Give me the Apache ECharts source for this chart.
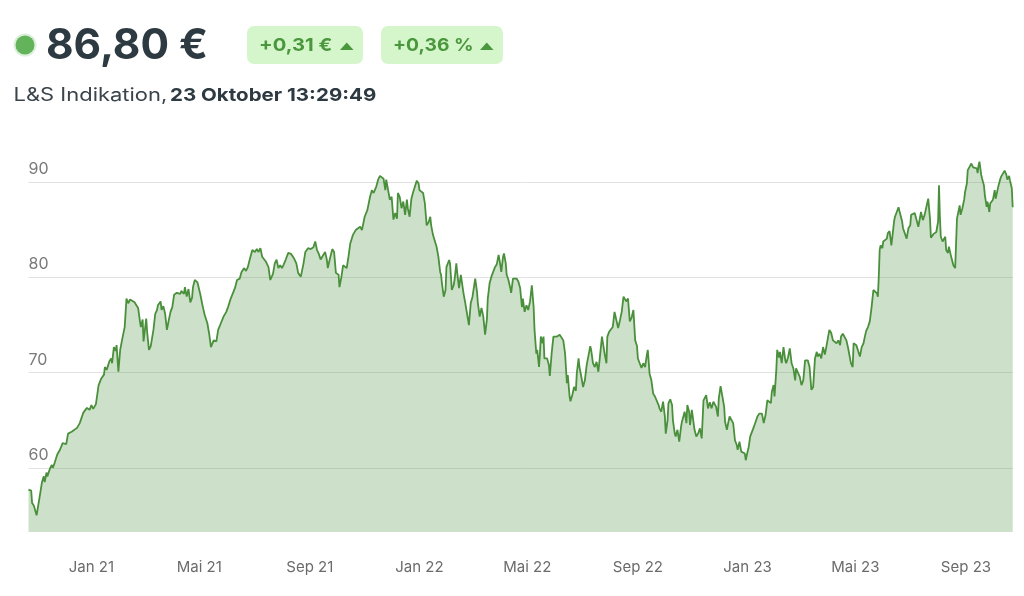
<!DOCTYPE html>
<html><head><meta charset="utf-8">
<script src="https://cdn.jsdelivr.net/npm/echarts@6/dist/echarts.min.js"></script>
<style>html,body{margin:0;padding:0;background:#fff;} #chart{width:1024px;height:596px;}</style>
</head><body><div id="chart"></div>
<script>
// Data: day offsets counted from the first date shown (23 Oct 2020), and the price on that day
const startDate = '2020-10-23';
const dayOffsets = [0,3,4,6,8,9,11,13,15,17,18,20,21,24,26,27,29,32,35,38,40,42,44,48,50,54,57,61,65,67,68,70,72,75,77,78,81,84,85,87,90,92,93,95,97,98,100,102,104,107,109,111,113,115,118,120,122,124,125,127,128,130,131,132,134,136,137,139,141,143,144,147,148,150,152,154,156,158,160,162,165,167,169,170,173,174,176,178,180,182,183,185,
188,191,194,196,199,201,203,206,209,211,214,217,220,222,225,228,230,232,235,237,240,242,244,246,249,252,254,256,258,260,262,264,267,269,272,274,276,278,280,282,284,286,289,292,295,298,300,303,306,308,309,311,314,317,319,321,323,325,327,330,332,333,335,338,340,342,345,346,348,350,352,354,356,358,361,364,
366,369,371,372,374,377,380,382,384,385,387,389,391,393,395,397,398,400,402,404,406,408,410,411,413,415,417,419,421,422,424,426,428,430,432,434,435,437,439,441,443,445,447,448,450,452,454,456,458,459,460,462,464,465,468,469,471,473,474,476,477,479,481,483,484,486,488,490,492,494,496,497,499,500,502,504,506,508,510,511,513,515,517,519,521,523,524,526,528,529,531,532,534,536,537,539,541,543,545,
547,549,550,552,554,556,558,560,562,563,565,566,568,569,570,572,573,574,576,577,579,580,582,584,586,588,589,591,593,595,597,599,600,602,603,605,607,609,610,612,613,615,617,619,621,623,625,626,628,630,632,634,636,638,639,641,643,644,646,648,650,652,654,656,658,660,662,664,665,667,669,671,673,674,675,677,678,680,682,684,686,688,689,691,693,695,697,699,701,702,704,706,708,709,711,712,714,716,717,719,720,722,724,726,727,729,
730,732,733,735,736,738,740,741,743,745,747,749,751,752,754,756,758,760,762,764,765,767,768,770,772,774,775,777,778,780,782,784,786,788,789,791,793,795,797,798,800,801,803,805,807,809,811,813,814,816,818,820,822,824,826,827,829,830,832,833,835,836,838,840,842,843,845,847,849,851,853,854,856,858,860,862,864,866,867,869,871,873,875,877,878,880,882,884,886,888,890,891,893,895,897,899,901,903,904,906,908,910,912,
914,915,917,918,920,921,923,925,927,929,931,932,934,936,938,940,942,944,945,946,947,948,950,951,953,955,956,958,960,961,963,964,966,968,969,970,972,973,975,977,979,981,982,984,986,988,990,992,993,995,997,999,1001,1003,1004,1006,1007,1009,1010,1012,1013,1014,1015,1017,1018,1020,1021,1023,1024,1026,1027,1029,1031,1032,1033,1035,1036,1037,1039,1041,1042,1044,1045,1047,1049,1051,1053,1055,1056,1057,1058,1060,1061,1063,1064,1066,1067,1069,1070,1072,1073,1075,1076,1078,1079,1081,1082,1084,1086,1088,1089,1091,1092,1094,1095];
const prices = [57.7,57.6,56.3,56.0,56.1,55.0,55.1,57.3,58.5,59.1,58.5,59.5,59.1,59.95,60.3,60.0,60.5,61.4,61.9,62.6,62.4,62.5,63.6,63.8,63.6,64.2,64.7,65.8,66.3,66.5,66.1,66.6,66.2,66.7,66.8,68.7,69.4,69.8,70.6,70.3,71.2,71.5,71.0,72.7,72.3,72.9,70.1,72.4,73.4,74.8,77.8,77.3,77.7,77.7,77.4,77.1,76.8,75.4,74.8,75.6,73.3,73.2,75.7,74.3,72.4,72.8,72.6,74.5,76.2,76.6,77.1,77.5,76.6,77.0,76.2,74.5,75.5,76.4,76.9,78.2,78.4,78.5,78.3,78.6,78.3,79.0,78.0,78.8,77.4,77.9,79.0,79.75,
79.5,78.3,76.9,76.1,75.2,74.1,72.7,73.4,73.3,74.5,75.2,75.9,76.4,76.9,77.8,78.5,79.0,79.75,79.9,80.6,81.0,80.7,81.1,81.85,82.9,82.7,83.0,82.7,83.1,82.2,82.1,81.7,81.1,79.75,80.4,81.5,81.9,81.0,81.3,81.0,81.4,81.85,82.6,82.5,82.1,81.5,80.5,80.1,81.5,82.7,82.8,83.1,83.0,83.2,83.8,82.9,82.5,81.9,82.0,82.7,81.85,81.0,81.85,83.0,82.7,80.5,80.3,79.0,80.0,81.3,81.1,81.0,82.2,83.6,84.5,85.0,
85.2,85.35,85.0,84.8,86.4,87.1,88.5,89.2,88.9,88.9,89.6,90.3,90.7,90.6,90.4,89.2,90.3,90.1,88.2,88.5,86.1,86.8,86.2,88.9,88.5,87.3,88.0,86.6,88.2,87.3,86.4,88.3,89.0,89.6,90.2,89.9,89.2,89.4,88.9,87.8,85.5,85.8,86.4,85.5,84.5,84.5,83.25,82.2,80.6,80.3,79.4,78.0,78.7,81.1,81.85,81.5,78.7,79.2,79.75,81.5,80.5,78.9,80.3,80.3,78.35,77.3,77.1,75.0,77.3,78.0,78.2,79.9,78.5,77.3,75.9,76.8,75.9,74.0,75.6,77.8,79.4,80.1,80.6,81.1,81.4,82.4,81.9,80.6,82.2,82.55,81.5,80.3,79.75,78.9,78.4,79.9,79.75,79.9,79.6,
78.9,76.9,77.8,76.4,77.1,76.6,77.5,79.2,76.9,74.5,72.0,72.4,70.6,72.0,73.8,73.1,73.8,71.5,71.3,71.5,70.8,69.65,72.0,73.8,73.6,73.8,73.7,74.0,74.15,73.4,72.0,68.9,69.75,67.5,67.0,67.65,68.5,68.1,69.9,71.5,70.6,69.6,68.5,69.2,70.8,70.9,72.8,72.4,71.0,70.6,71.15,70.1,71.9,73.8,73.2,72.0,71.0,73.8,74.3,74.1,74.8,76.4,76.4,74.7,75.5,76.4,78.0,78.1,77.5,77.8,75.4,75.8,76.6,76.8,73.4,72.8,71.5,71.7,70.5,71.0,70.6,71.9,72.4,69.9,69.2,67.8,67.5,67.3,66.6,66.25,65.9,66.95,65.4,63.6,65.0,66.8,67.2,66.6,65.0,63.6,63.3,64.0,62.75,64.3,64.85,64.7,
65.9,64.7,66.6,65.9,64.5,66.1,65.9,64.0,63.3,63.6,64.15,63.1,67.1,66.9,67.65,66.25,66.9,66.25,66.95,66.95,66.4,65.4,67.3,68.6,67.5,66.4,64.85,64.0,64.5,65.4,65.5,64.7,62.9,62.4,61.9,62.75,61.7,61.6,61.5,60.8,61.7,62.05,63.3,63.5,64.3,64.1,65.4,65.7,65.8,65.7,64.7,65.55,67.1,67.1,66.8,68.0,68.7,67.5,70.3,72.4,71.6,72.2,71.0,72.7,71.3,71.0,71.6,72.55,71.0,70.45,69.2,70.45,70.3,69.6,68.7,69.2,71.3,71.1,71.3,70.6,68.2,68.5,71.5,72.2,71.7,72.0,71.5,72.7,71.9,72.9,73.1,74.5,74.2,73.4,73.3,73.1,73.4,72.9,73.8,74.1,73.9,73.4,72.55,
72.6,71.0,70.6,73.1,73.1,72.9,72.7,71.7,72.7,73.1,74.0,74.4,74.8,75.4,76.9,78.7,78.8,78.35,78.0,80.1,82.9,83.4,83.1,83.8,83.8,84.1,84.65,84.9,83.4,84.2,85.9,86.4,86.9,87.4,87.0,86.8,85.9,85.2,85.0,84.1,85.2,85.5,86.6,86.8,86.8,86.8,85.35,85.5,86.9,86.05,86.6,87.45,88.3,86.2,84.2,84.1,84.6,84.5,84.8,85.9,89.7,86.4,84.3,83.8,84.0,84.3,82.9,82.6,83.25,82.4,82.2,81.3,81.0,80.8,86.2,86.4,87.6,86.6,87.3,88.2,89.0,89.9,91.3,91.65,92.0,91.6,91.8,91.5,91.0,91.8,92.2,90.8,90.4,89.7,88.7,87.45,88.0,86.9,87.8,87.9,88.2,89.2,88.3,88.5,89.6,90.3,90.6,90.8,91.25,90.8,90.3,90.7,90.2,89.4,87.4];
const tickDays = [70,190,313,435,555,678,800,920,1043];
const tickLabels = ['Jan 21','Mai 21','Sep 21','Jan 22','Mai 22','Sep 22','Jan 23','Mai 23','Sep 23'];
const yTicks = [60,70,80,90];
const headerPrice = '86,80 €';
const changeAbs = '+0,31 €';
const changePct = '+0,36 %';
const sourceLabel = 'L&S Indikation,';
const timestampLabel = '23 Oktober 13:29:49';

const FONT = 'Inter, "Open Sans", sans-serif';
const chart = echarts.init(document.getElementById('chart'), null, {renderer: 'canvas'});
const seriesData = dayOffsets.map((d, i) => [d, prices[i]]);

chart.setOption({
  animation: false,
  backgroundColor: '#ffffff',
  grid: {left: 28.5, right: 11.3, top: 144.5, bottom: 64, containLabel: false},
  xAxis: {
    type: 'value', min: 0, max: 1095,
    axisLine: {show: false}, axisTick: {show: false}, splitLine: {show: false},
    axisLabel: {
      customValues: tickDays,
      formatter: v => tickLabels[tickDays.indexOf(v)] || '',
      color: '#6b6b6b', fontSize: 15, fontFamily: FONT, margin: 28
    }
  },
  yAxis: {
    type: 'value', min: 53.25, max: 94,
    axisLine: {show: false},
    axisTick: {show: false, customValues: yTicks},
    axisLabel: {
      customValues: yTicks, inside: true, margin: 0,
      verticalAlign: 'bottom', padding: [0, 0, 5, 0],
      color: '#7a7a7a', fontSize: 16, fontFamily: FONT
    },
    splitLine: {show: true, lineStyle: {color: '#e2e2e2', width: 1}}
  },
  series: [{
    type: 'line', data: seriesData, showSymbol: false, silent: true,
    lineStyle: {color: '#4a903c', width: 1.8},
    areaStyle: {color: 'rgba(74,144,60,0.28)', opacity: 1}
  }],
  graphic: [
    {type: 'circle', shape: {cx: 25, cy: 45, r: 11.5}, style: {fill: 'rgba(98,181,90,0.22)'}},
    {type: 'circle', shape: {cx: 25, cy: 45, r: 9.5}, style: {fill: '#62b35a'}},
    {type: 'text', x: 46, y: 46, scaleX: 1.01, style: {text: headerPrice, font: '700 42px ' + FONT, fill: '#2e3a41', verticalAlign: 'middle'}},
    {type: 'rect', shape: {x: 247, y: 26, width: 116, height: 38, r: 7}, style: {fill: '#d5f5cb'}},
    {type: 'text', x: 259, y: 46, scaleX: 1.12, style: {text: changeAbs, font: '700 18px ' + FONT, fill: '#4b973d', verticalAlign: 'middle'}},
    {type: 'polygon', shape: {points: [[340, 50], [353.5, 50], [346.75, 42.5]]}, style: {fill: '#4b973d'}},
    {type: 'rect', shape: {x: 381, y: 26, width: 122, height: 38, r: 7}, style: {fill: '#d5f5cb'}},
    {type: 'text', x: 393, y: 46, scaleX: 1.07, style: {text: changePct, font: '700 18px ' + FONT, fill: '#4b973d', verticalAlign: 'middle'}},
    {type: 'polygon', shape: {points: [[480, 50], [493.5, 50], [486.75, 42.5]]}, style: {fill: '#4b973d'}},
    {type: 'text', x: 13.5, y: 96, scaleX: 1.22, style: {text: sourceLabel, font: '400 18px ' + FONT, fill: '#3a444b', verticalAlign: 'middle'}},
    {type: 'text', x: 170, y: 96, scaleX: 1.14, style: {text: timestampLabel, font: '700 18px ' + FONT, fill: '#2e3a41', verticalAlign: 'middle'}}
  ]
});
</script>
</body></html>
